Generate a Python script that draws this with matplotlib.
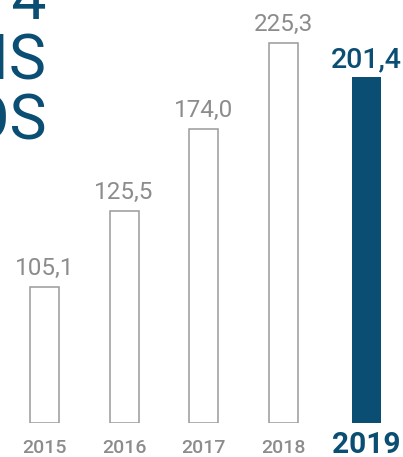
import matplotlib.pyplot as plt
import matplotlib.transforms as mtransforms
import numpy as np

plt.rcParams['font.family'] = ['Roboto', 'DejaVu Sans']

years = ['2015', '2016', '2017', '2018', '2019']
values = [105.1, 125.5, 174.0, 225.3, 201.4]
labels = ['105,1', '125,5', '174,0', '225,3', '201,4']
# drawn bar heights (the artwork is not to scale)
heights = [80.4, 125.5, 174.0, 225.3, 205.0]

title_lines = ['2014', 'REAIS', 'ANOS']

blue = '#0b4e73'
gray = '#8c8c8c'
edge = '#9a9a9a'

W, H = 403, 457
fig = plt.figure(figsize=(W / 100, H / 100), dpi=100)
base = 422.5
ax = fig.add_axes([0, (H - base) / H, 1, base / H])
ax.set_axis_off()

px_per_unit = 1.685
step = 79.5
ax.set_xlim(-44.5 / step, (W - 44.5) / step)
ax.set_ylim(0, base / px_per_unit)

x = np.arange(len(years), dtype=float)
x[-1] += 0.05
w = 29 / step

for i in range(len(years)):
    last = i == len(years) - 1
    if last:
        ax.bar(x[i], heights[i], width=w, color=blue, edgecolor='none')
        ax.annotate(labels[i], (x[i], heights[i]), xytext=(0, 7.2),
                    textcoords='offset points', ha='center', va='baseline',
                    fontsize=20.5, color=blue, fontweight='medium')
    else:
        ax.bar(x[i], heights[i], width=w, facecolor='white', edgecolor=edge,
               linewidth=1.1)
        ax.annotate(labels[i], (x[i], heights[i]), xytext=(0, 8.6),
                    textcoords='offset points', ha='center', va='baseline',
                    fontsize=17.5, color=gray)

trans = mtransforms.blended_transform_factory(ax.transData, fig.transFigure)
for i, yr in enumerate(years):
    last = i == len(years) - 1
    ax.text(x[i], 4 / H, yr, transform=trans, ha='center', va='baseline',
            fontsize=21.5 if last else 14,
            color=blue if last else gray,
            fontweight='bold' if last else 'medium', clip_on=False)

# big heading, mostly cut off at the left edge
for k, line in enumerate(title_lines):
    fig.text(47 / W, 1 - (20 + 60 * k) / H, line, ha='right', va='baseline',
             fontsize=45, color=blue)

fig.savefig('out.png', dpi=100)
